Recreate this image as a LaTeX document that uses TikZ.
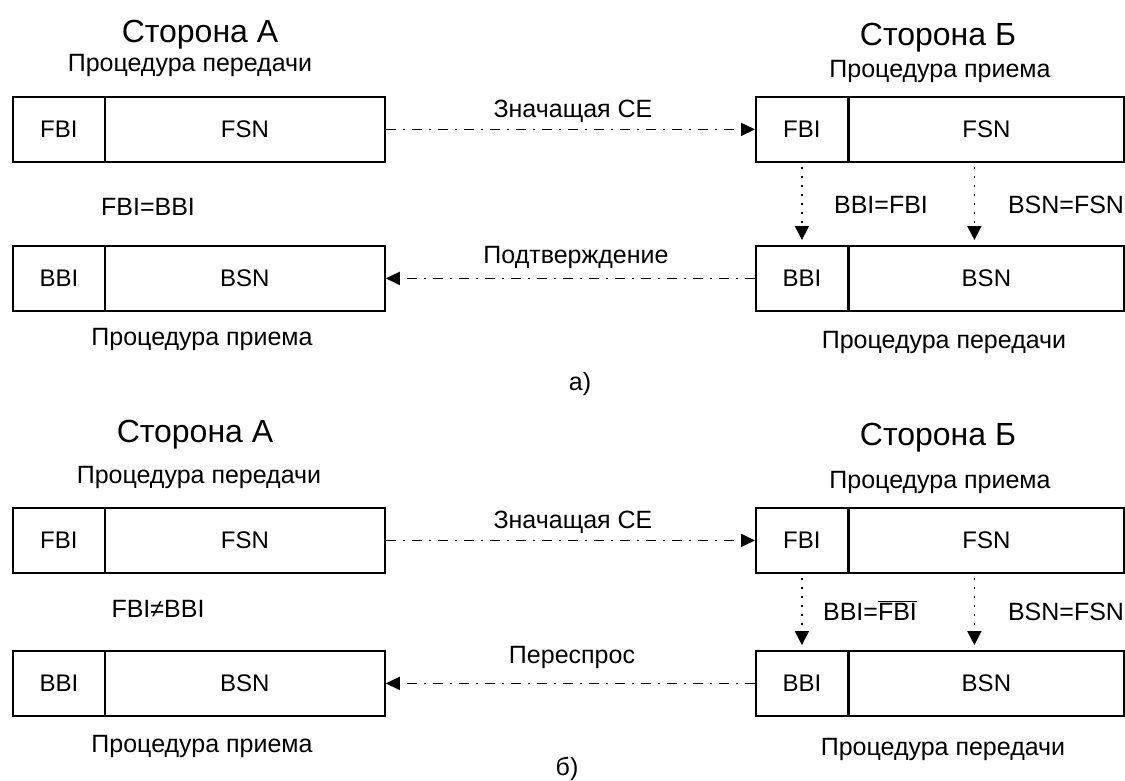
\documentclass[tikz,border=0pt]{standalone}
\usepackage{fontspec}
\setmainfont{Liberation Sans}
\usetikzlibrary{arrows.meta}
\begin{document}
\begin{tikzpicture}[x=1pt,y=-1pt,
  cell/.style={draw, line width=1.8pt, minimum height=65pt, inner sep=0pt, anchor=north west, font=\fontsize{24}{28}\selectfont},
  small/.style={cell, minimum width=92pt},
  bigA/.style={cell, minimum width=280pt},
  bigB/.style={cell, minimum width=275pt},
  lbl/.style={anchor=base, inner sep=0pt, font=\fontsize{25}{30}\selectfont},
  ttl/.style={anchor=base, inner sep=0pt, font=\fontsize{32}{38}\selectfont},
  msg/.style={line width=1.8pt, dash pattern=on 10pt off 7pt on 2pt off 7pt, -{Triangle[length=14pt,width=13pt]}},
  cpy/.style={line width=1.8pt, dash pattern=on 2pt off 7pt, -{Triangle[length=14pt,width=14pt]}, shorten >=5pt, shorten <=4pt},
]
\useasboundingbox (0,0) rectangle (1125,780);
\fill[white] (0,0) rectangle (1125,780);

% ---------------- part a ----------------
\node[small] (afbiA) at (12,96) {FBI};
\node[bigA]  (afsnA) at (104,96) {FSN};
\node[small] (abbiA) at (12,245) {BBI};
\node[bigA]  (absnA) at (104,245) {BSN};
\node[small] (afbiB) at (755,96) {FBI};
\node[bigB]  (afsnB) at (848,96) {FSN};
\node[small] (abbiB) at (755,245) {BBI};
\node[bigB]  (absnB) at (848,245) {BSN};

\node[ttl] (aTA) at (200,42) {Сторона А};
\node[lbl] (aPA1) at (190,71) {Процедура передачи};
\node[ttl] (aTB) at (938,45) {Сторона Б};
\node[lbl] (aPB1) at (940,77) {Процедура приема};
\node[lbl] (aEqA) at (148,215) {FBI=BBI};
\node[lbl] (aEq1) at (881,213) {BBI=FBI};
\node[lbl] (aEq2) at (1066,213) {BSN=FSN};
\node[lbl] (aM1) at (573,117) {Значащая СЕ};
\node[lbl] (aM2) at (576,263) {Подтверждение};
\node[lbl] (aPA2) at (202,345) {Процедура приема};
\node[lbl] (aPB2) at (944,348) {Процедура передачи};
\node[lbl] (aCap) at (580,390) {а)};

\draw[msg] (afsnA.east) -- (afbiB.west);
\draw[msg] (abbiB.west) -- (absnA.east);
\draw[cpy] (afbiB.south) -- (abbiB.north);
\draw[cpy] ([xshift=-12pt]afsnB.south) -- ([xshift=-12pt]absnB.north);

% ---------------- part b ----------------
\node[small] (bfbiA) at (12,507) {FBI};
\node[bigA]  (bfsnA) at (104,507) {FSN};
\node[small] (bbbiA) at (12,650) {BBI};
\node[bigA]  (bbsnA) at (104,650) {BSN};
\node[small] (bfbiB) at (755,507) {FBI};
\node[bigB]  (bfsnB) at (848,507) {FSN};
\node[small] (bbbiB) at (755,650) {BBI};
\node[bigB]  (bbsnB) at (848,650) {BSN};

\node[ttl] (bTA) at (195,442) {Сторона А};
\node[lbl] (bPA1) at (199,483) {Процедура передачи};
\node[ttl] (bTB) at (938,445) {Сторона Б};
\node[lbl] (bPB1) at (940,488) {Процедура приема};
\node[lbl] (bEqA) at (158,617) {FBI≠BBI};
\node[lbl] (bEq1) at (870,620) {BBI=$\overline{\mbox{FBI}}$};
\node[lbl] (bEq2) at (1066,620) {BSN=FSN};
\node[lbl] (bM1) at (573,528) {Значащая СЕ};
\node[lbl] (bM2) at (572,663) {Переспрос};
\node[lbl] (bPA2) at (202,752) {Процедура приема};
\node[lbl] (bPB2) at (943,755) {Процедура передачи};
\node[lbl] (bCap) at (567,775) {б)};

\draw[msg] (bfsnA.east) -- (bfbiB.west);
\draw[msg] (bbbiB.west) -- (bbsnA.east);
\draw[cpy] (bfbiB.south) -- (bbbiB.north);
\draw[cpy] ([xshift=-12pt]bfsnB.south) -- ([xshift=-12pt]bbsnB.north);
\end{tikzpicture}
\end{document}
